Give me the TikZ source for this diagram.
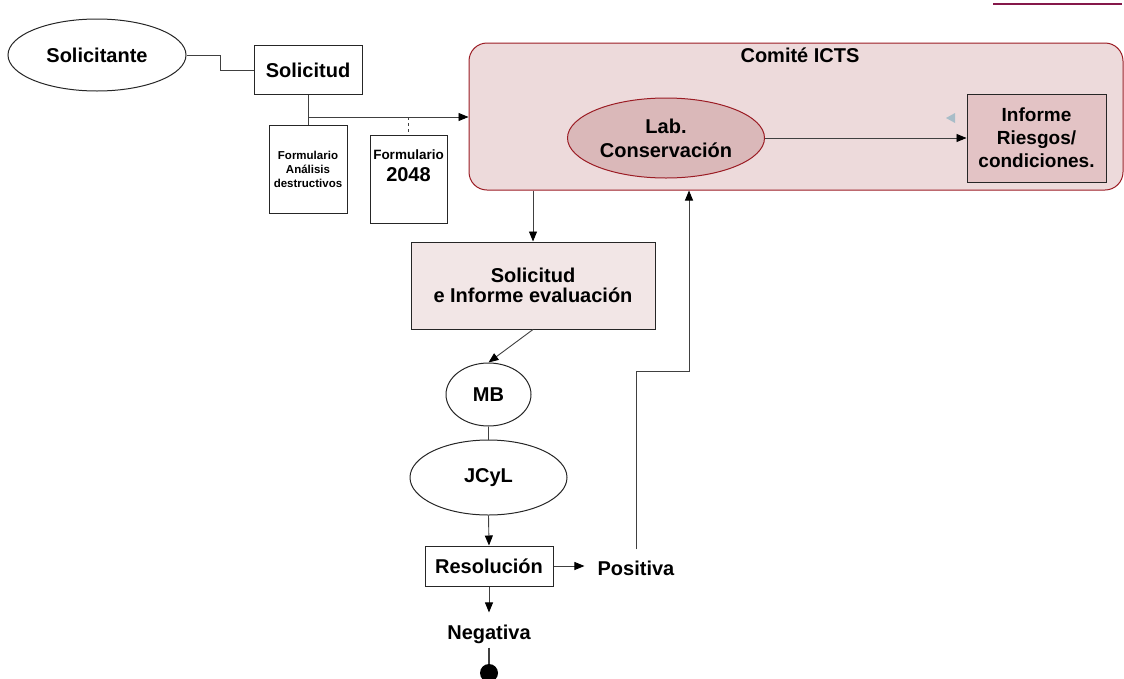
\documentclass[tikz,border=0pt]{standalone}
\usepackage{fontspec}
\setmainfont{Liberation Sans}
\usetikzlibrary{shapes.geometric}
\usetikzlibrary{arrows.meta}
\definecolor{comitefill}{HTML}{EDDADB}
\definecolor{comiteborde}{HTML}{9B1C24}
\definecolor{labfill}{HTML}{DAB8B9}
\definecolor{informefill}{HTML}{E3C3C5}
\definecolor{evalfill}{HTML}{F2E6E6}
\definecolor{marcafill}{HTML}{A8BDC8}
\definecolor{subrayado}{HTML}{85184A}

\tikzset{
  txt/.style={font=\bfseries\fontsize{20}{24}\selectfont, align=center, inner sep=0pt},
  caja/.style={txt, draw=black!85, line width=1pt, rectangle},
  elip/.style={txt, draw=black!85, line width=1pt, ellipse},
  linea/.style={draw=black!75, line width=0.9pt},
  flecha/.style={linea, -{Triangle[length=10pt,width=8pt,black]}},
}

\begin{document}
\begin{tikzpicture}[x=1pt,y=-1pt]
  \useasboundingbox (0,0) rectangle (1124,678);
  \draw[subrayado, line width=2.4pt] (993,4) -- (1122,4);
  % comite
  \node[caja, draw=comiteborde, fill=comitefill, rounded corners=18pt, minimum width=654pt, minimum height=147pt] (comite) at (796,116.5) {};
  \node[txt] (titulo) at (800,55) {Comité ICTS};
  \node[elip, draw=comiteborde, fill=labfill, minimum width=197pt, minimum height=80pt] (lab) at (666,138) {Lab.\\Conservación};
  \node[caja, fill=informefill, minimum width=139pt, minimum height=88pt, font=\bfseries\fontsize{19}{23}\selectfont] (informe) at (1036.5,138) {Informe\\Riesgos/\\condiciones.};
  \fill[marcafill] (955,113) -- (946,118) -- (955,123) -- cycle;
  \draw[flecha] (lab) -- (informe);
  % solicitud
  \node[elip, minimum width=178pt, minimum height=72pt] (solicitante) at (97,55) {Solicitante};
  \node[caja, minimum width=108pt, minimum height=49pt] (solicitud) at (308,70) {Solicitud};
  \draw[linea] (solicitante.east) -- ++(34,0) |- (solicitud.west);
  \node[caja, minimum width=78pt, minimum height=88pt, font=\bfseries\fontsize{11.5}{14}\selectfont] (form1) at (308,169) {Formulario\\Análisis\\destructivos};
  \node[caja, minimum width=77pt, minimum height=88pt] (form2) at (408.5,179) {};
  \node[txt, font=\bfseries\fontsize{13.5}{22}\selectfont] (form2txt) at (408.5,166) {Formulario\\{\fontsize{20}{22}\selectfont 2048}};
  \coordinate (cruce) at (308,117);
  \draw[linea] (solicitud.south) -- (form1.north);
  \draw[flecha] (cruce) -- (cruce -| comite.west);
  \draw[linea, dashed] (form2.north |- cruce) -- (form2.north);
  % evaluacion
  \node[caja, fill=evalfill, minimum width=244pt, minimum height=87pt, font=\bfseries\fontsize{20}{20}\selectfont] (eval) at (533,285.5) {Solicitud\\e Informe evaluación};
  \draw[flecha] (eval.north |- comite.south) -- (eval.north);
  \node[elip, minimum width=85pt, minimum height=63pt] (mb) at (488.5,394.5) {MB};
  \node[elip, minimum width=157pt, minimum height=75pt] (jcyl) at (488.5,477.5) {JCyL};
  \node[caja, minimum width=128pt, minimum height=40pt] (resol) at (489,566) {Resolución};
  \draw[flecha] (eval.south) -- (mb.north);
  \draw[linea] (mb.south) -- (jcyl.north);
  \draw[flecha] (jcyl.south) -- (resol.north);
  % resultados
  \node[txt] (positiva) at (636,568) {Positiva};
  \node[txt] (negativa) at (489,634) {Negativa};
  \node[circle, fill=black, minimum size=18pt, inner sep=0pt] (fin) at (489,673) {};
  \draw[flecha, shorten >=13pt] (resol.east) -- (resol.east -| positiva.west);
  \draw[flecha, shorten >=12pt] (resol.south) -- (negativa.north);
  \draw[linea, line width=1.2pt, shorten <=4pt] (negativa.south) -- (fin.north);
  \coordinate (quiebro) at (689,371);
  \draw[flecha] ([yshift=11pt]positiva.north) |- (quiebro) -- (quiebro |- comite.south);
\end{tikzpicture}
\end{document}
